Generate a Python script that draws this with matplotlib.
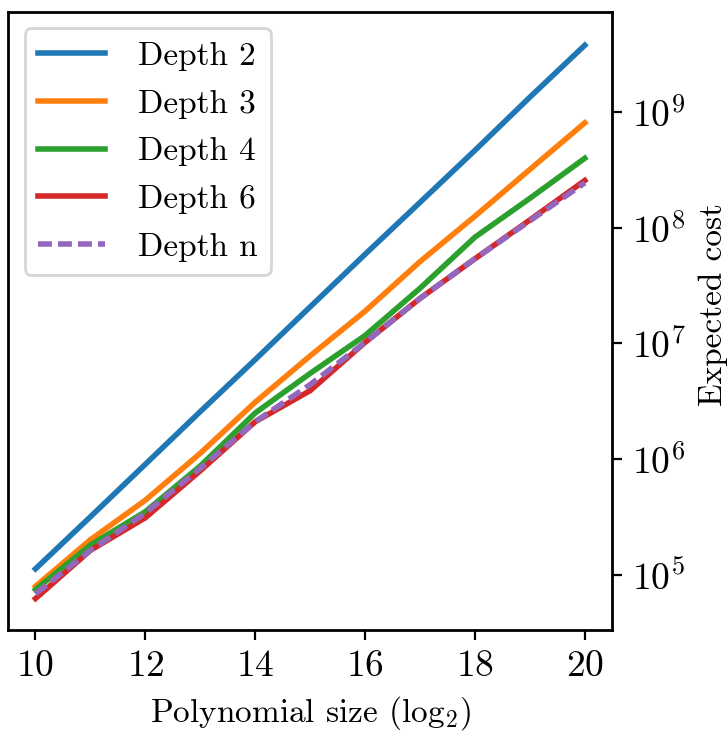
import matplotlib
matplotlib.use("Agg")
import matplotlib.pyplot as plt
from matplotlib.ticker import NullLocator

plt.rcParams['font.family'] = 'serif'
plt.rcParams['font.serif'] = ['cmr10']
plt.rcParams['mathtext.fontset'] = 'cm'
plt.rcParams['axes.formatter.use_mathtext'] = True
plt.rcParams['axes.unicode_minus'] = False
plt.rcParams['font.size'] = 12
plt.rcParams['xtick.labelsize'] = 13.5
plt.rcParams['ytick.labelsize'] = 13.5
plt.rcParams['axes.linewidth'] = 1.0
plt.rcParams['lines.linewidth'] = 2.0

# polynomial size (log2)
sizes = [10, 11, 12, 13, 14, 15, 16, 17, 18, 19, 20]

# expected cost per depth
depth2 = [1.12e5, 3.16e5, 9.0e5, 2.57e6, 7.24e6, 2.07e7, 5.9e7, 1.66e8, 4.68e8, 1.35e9, 3.8e9]
depth3 = [7.9e4, 2.0e5, 4.4e5, 1.12e6, 3.1e6, 7.8e6, 1.9e7, 5.1e7, 1.26e8, 3.2e8, 8.1e8]
depth4 = [7.4e4, 1.8e5, 3.5e5, 8.7e5, 2.5e6, 5.5e6, 1.17e7, 3.0e7, 8.3e7, 1.8e8, 4.0e8]
depth6 = [6.2e4, 1.62e5, 3.1e5, 7.9e5, 2.1e6, 3.9e6, 1.02e7, 2.45e7, 5.4e7, 1.17e8, 2.57e8]
depthn = [6.8e4, 1.62e5, 3.4e5, 8.3e5, 2.1e6, 4.4e6, 1.02e7, 2.45e7, 5.4e7, 1.15e8, 2.45e8]

fig = plt.figure(figsize=(3.64, 3.665), dpi=200)
ax = fig.add_axes([0.011, 0.1405, 0.83, 0.8435])

ax.plot(sizes, depth2, label="Depth 2")
ax.plot(sizes, depth3, label="Depth 3")
ax.plot(sizes, depth4, label="Depth 4")
ax.plot(sizes, depth6, label="Depth 6")
ax.plot(sizes, depthn, '--', dashes=(2.5, 1.1), label="Depth n")

ax.set_yscale('log')
ax.set_ylim(10**4.52, 10**9.87)
ax.yaxis.set_minor_locator(NullLocator())
ax.yaxis.tick_right()
ax.yaxis.set_label_position('right')
ax.set_xticks([10, 12, 14, 16, 18, 20])
ax.set_xlabel(r"Polynomial size (log$_2$)")
ax.set_ylabel("Expected cost")
ax.yaxis.set_label_coords(1.143, 0.527)
ax.legend(loc='upper left', handletextpad=1.0, labelspacing=0.55)

fig.savefig("out.png", dpi=200)
